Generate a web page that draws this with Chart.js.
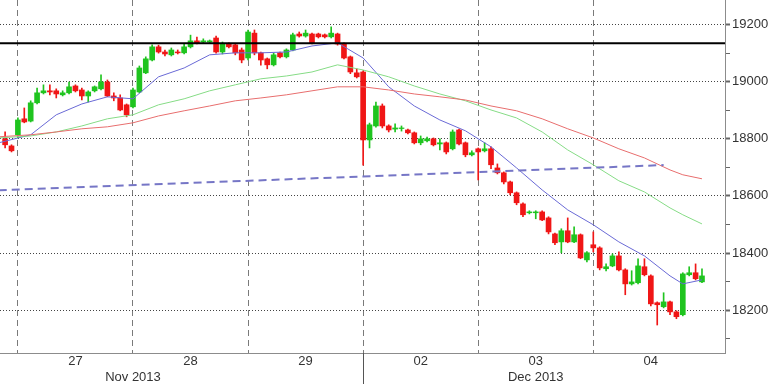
<!DOCTYPE html>
<html>
<head>
<meta charset="utf-8">
<script src="https://cdn.jsdelivr.net/npm/chart.js@4.4.0/dist/chart.umd.min.js"></script>
<style>
  html, body { margin: 0; padding: 0; background: #fff; }
  #wrap { width: 768px; height: 384px; }
</style>
</head>
<body>
<div id="wrap"><canvas id="chart" width="768" height="384"></canvas></div>
<script>
// Candles, one every half hour, 18 per session
const opens = [
  18800, 18775, 18814, 18870, 18862, 18926, 18961, 18968, 18968, 18954,
  18961, 18985, 18971, 18950, 18968, 18975, 18999, 18950, 18943, 18919,
  18912, 18964, 19031, 19076, 19122, 19104, 19094, 19104, 19101, 19122,
  19143, 19139, 19139, 19153, 19104, 19132, 19129, 19111, 19083, 19170,
  19101, 19080, 19059, 19101, 19087, 19111, 19167, 19160, 19167, 19167,
  19164, 19157, 19167, 19132, 19087, 19031, 19034, 18796, 18845, 18915,
  18845, 18834, 18836, 18831, 18821, 18786, 18793, 18800, 18782, 18786,
  18765, 18831, 18786, 18744, 18765, 18758, 18765, 18698, 18681, 18649,
  18611, 18572, 18541, 18541, 18544, 18523, 18467, 18439, 18478, 18439,
  18464, 18376, 18429, 18418, 18345, 18355, 18390, 18341, 18292, 18296,
  18352, 18320, 18226, 18212, 18229, 18194, 18184, 18324, 18331, 18299
];
const highs = [
  18824, 18779, 18873, 18908, 18933, 18978, 18989, 18989, 18975, 18968,
  18999, 18989, 18978, 18968, 18985, 19024, 19006, 18961, 18954, 18922,
  18978, 19055, 19087, 19129, 19128, 19111, 19118, 19111, 19132, 19163,
  19156, 19150, 19146, 19160, 19139, 19136, 19132, 19118, 19181, 19181,
  19104, 19083, 19100, 19104, 19115, 19170, 19174, 19181, 19170, 19170,
  19167, 19192, 19170, 19136, 19090, 19045, 19038, 18855, 18929, 18922,
  18849, 18852, 18845, 18834, 18824, 18810, 18806, 18803, 18800, 18789,
  18831, 18834, 18789, 18758, 18768, 18786, 18772, 18712, 18684, 18652,
  18614, 18576, 18548, 18548, 18548, 18527, 18470, 18485, 18523, 18492,
  18467, 18405, 18474, 18422, 18362, 18397, 18404, 18345, 18338, 18380,
  18380, 18324, 18229, 18261, 18232, 18198, 18331, 18352, 18362, 18345
];
const lows = [
  18768, 18754, 18803, 18856, 18859, 18922, 18957, 18954, 18943, 18950,
  18957, 18964, 18936, 18929, 18964, 18971, 18947, 18933, 18898, 18877,
  18908, 18961, 19028, 19073, 19100, 19090, 19090, 19097, 19097, 19118,
  19132, 19136, 19136, 19100, 19097, 19118, 19094, 19066, 19076, 19094,
  19058, 19045, 19055, 19083, 19083, 19108, 19156, 19156, 19132, 19153,
  19153, 19153, 19128, 19080, 19028, 19013, 18708, 18768, 18841, 18838,
  18824, 18824, 18827, 18817, 18782, 18779, 18789, 18775, 18761, 18747,
  18761, 18779, 18737, 18740, 18656, 18754, 18695, 18677, 18642, 18604,
  18569, 18527, 18537, 18520, 18513, 18467, 18429, 18401, 18436, 18436,
  18380, 18369, 18404, 18341, 18337, 18352, 18337, 18254, 18288, 18292,
  18320, 18215, 18148, 18208, 18184, 18170, 18180, 18320, 18306, 18296
];
const closes = [
  18779, 18758, 18866, 18859, 18926, 18961, 18968, 18964, 18957, 18961,
  18982, 18968, 18950, 18964, 18982, 18999, 18950, 18943, 18901, 18884,
  18971, 19048, 19080, 19122, 19104, 19097, 19111, 19101, 19122, 19143,
  19136, 19143, 19143, 19104, 19132, 19122, 19101, 19076, 19174, 19101,
  19076, 19059, 19094, 19087, 19111, 19164, 19160, 19170, 19136, 19157,
  19157, 19170, 19132, 19083, 19034, 19017, 18796, 18849, 18915, 18845,
  18831, 18838, 18838, 18821, 18786, 18800, 18800, 18779, 18786, 18754,
  18824, 18782, 18744, 18751, 18754, 18765, 18709, 18681, 18649, 18611,
  18576, 18534, 18544, 18544, 18516, 18474, 18436, 18478, 18439, 18464,
  18383, 18401, 18418, 18348, 18352, 18390, 18341, 18292, 18299, 18355,
  18324, 18222, 18219, 18229, 18194, 18177, 18327, 18331, 18310, 18320
];

// Moving averages, read at these candle positions
const maIdx = [-1, 4, 8, 12, 16, 20, 24, 28, 32, 36, 40, 44, 48, 52, 56, 60,
  64, 68, 72, 76, 80, 84, 88, 92, 96, 100, 104, 106, 109];
const maFast = [18786, 18814, 18884, 18922, 18947, 18940, 19017, 19048, 19094, 19101,
  19101, 19104, 19125, 19136, 19083, 18982, 18915, 18866, 18828, 18772,
  18698, 18621, 18551, 18499, 18439, 18390, 18320, 18292, 18306];
const maMid = [18803, 18810, 18824, 18845, 18870, 18884, 18919, 18940, 18968, 18989,
  19010, 19020, 19034, 19059, 19041, 19017, 18985, 18957, 18933, 18901,
  18873, 18824, 18761, 18709, 18653, 18614, 18558, 18534, 18502];
const maSlow = [18807, 18814, 18824, 18835, 18842, 18856, 18880, 18898, 18915, 18933,
  18943, 18954, 18968, 18982, 18982, 18971, 18957, 18947, 18936, 18915,
  18898, 18870, 18835, 18803, 18765, 18733, 18691, 18674, 18660];

// Trend line and resistance level
const trendIdx = [-1, 103];
const trendVals = [18620, 18708];
const resistance = 19135;

// Axis labels
const candlesPerDay = 18;
const dayStarts = [2, 20, 38, 56, 74, 92];
const dayLabels = ['27', '28', '29', '02', '03', '04'];
const monthIdx = [20, 83];
const monthLabels = ['Nov 2013', 'Dec 2013'];
const monthBreak = 56;

Chart.defaults.font.family = 'Liberation Sans';
Chart.defaults.font.size = 13;
Chart.defaults.color = '#333';

const up = '#1fc41f';
const down = '#f01616';
const candleColors = opens.map((o, i) => closes[i] >= o ? up : down);
const idx = opens.map((_, i) => i);
const xMin = -0.8, xMax = 112.6;

const monthBreakLine = {
    id: 'monthBreakLine',
    afterDraw(chart) {
        const { ctx, chartArea, scales } = chart;
        const x = Math.round(scales.x.getPixelForValue(monthBreak)) + 0.5;
        ctx.save();
        ctx.strokeStyle = '#555';
        ctx.lineWidth = 1;
        ctx.beginPath();
        ctx.moveTo(x, chartArea.bottom);
        ctx.lineTo(x, chart.height);
        ctx.stroke();
        ctx.restore();
    }
};

function line(xs, ys, color, width, dash) {
    return {
        type: 'line',
        data: xs.map((x, i) => ({ x: x, y: ys[i] })),
        borderColor: color,
        borderWidth: width,
        borderDash: dash || [],
        pointRadius: 0,
        tension: 0,
        order: 0
    };
}

function labelAxis(ticksAt, labels, height, padding) {
    return {
        type: 'linear', position: 'bottom', min: xMin, max: xMax, offset: false,
        afterBuildTicks: s => { s.ticks = ticksAt.map(v => ({ value: v })); },
        afterFit: s => { s.height = height; s.paddingLeft = 0; s.paddingRight = 0; },
        ticks: {
            autoSkip: false, maxRotation: 0, padding: padding,
            callback: v => labels[ticksAt.indexOf(v)]
        },
        grid: { display: false, drawTicks: false, offset: false },
        border: { display: false }
    };
}

new Chart(document.getElementById('chart'), {
    type: 'bar',
    data: {
        datasets: [
            line([xMin - 1, xMax + 1], [resistance, resistance], '#000', 2),
            line(trendIdx, trendVals, '#7676c6', 2, [8, 5]),
            line(maIdx, maSlow, '#e86e6e', 1),
            line(maIdx, maMid, '#86dc86', 1),
            line(maIdx, maFast, '#6a6ad6', 1),
            {
                label: 'Wicks',
                data: idx.map(i => ({ x: i, y: [lows[i], highs[i]] })),
                backgroundColor: candleColors,
                barThickness: 1,
                grouped: false,
                order: 2
            },
            {
                label: 'Bodies',
                data: idx.map(i => ({ x: i, y: [opens[i], closes[i]] })),
                backgroundColor: candleColors,
                barThickness: 5,
                grouped: false,
                order: 1
            }
        ]
    },
    options: {
        responsive: false,
        animation: false,
        layout: { padding: 0 },
        plugins: { legend: { display: false }, tooltip: { enabled: false } },
        scales: {
            x: {
                type: 'linear', min: xMin, max: xMax, offset: false,
                afterBuildTicks: s => { s.ticks = dayStarts.map(v => ({ value: v })); },
                afterFit: s => { s.height = 0; s.paddingLeft = 0; s.paddingRight = 0; },
                ticks: { display: false },
                grid: { color: '#7a7a7a', drawTicks: false, offset: false },
                border: { color: '#8c8c8c', dash: [6, 4] }
            },
            xDays: labelAxis(dayStarts.map(d => d + candlesPerDay / 2), dayLabels, 15, 1),
            xMonths: labelAxis(monthIdx, monthLabels, 16, 2),
            y: {
                position: 'right', min: 18050, max: 19286,
                afterFit: s => { s.width = 43; s.paddingTop = 0; s.paddingBottom = 0; },
                ticks: {
                    stepSize: 100, includeBounds: false, autoSkip: false, padding: 2,
                    callback: v => v % 200 === 0 ? v : ''
                },
                grid: {
                    color: ctx => ctx.tick && ctx.tick.value % 200 === 0 ? '#444' : 'rgba(0,0,0,0)',
                    tickColor: '#666',
                    tickLength: 5,
                    tickWidth: ctx => ctx.tick && ctx.tick.value % 200 === 0 ? 2 : 1
                },
                border: { color: '#8c8c8c', dash: [1, 2] }
            }
        }
    },
    plugins: [monthBreakLine]
});
</script>
</body>
</html>
